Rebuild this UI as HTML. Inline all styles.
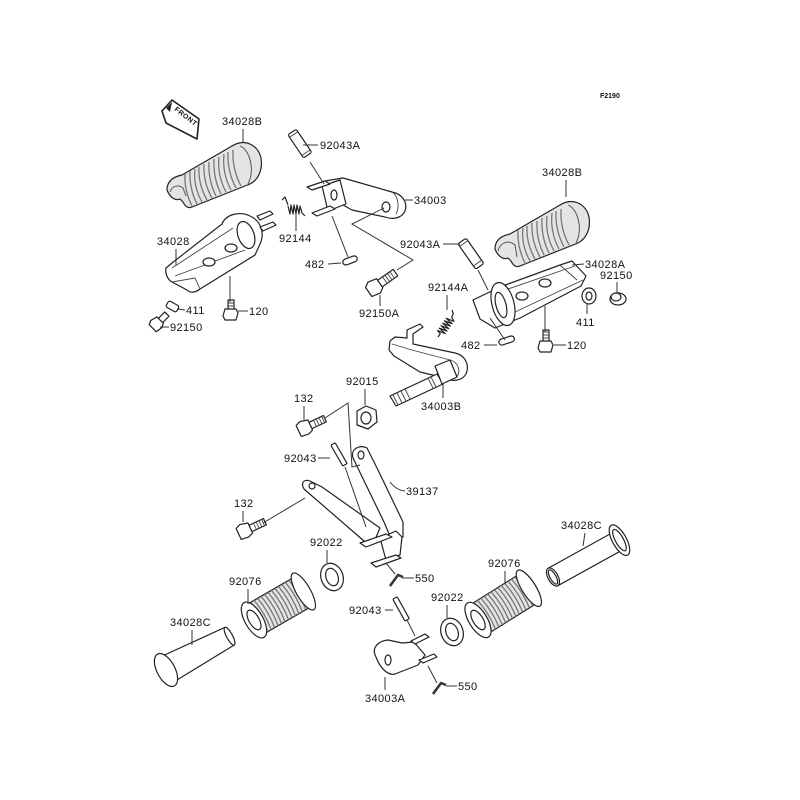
<!DOCTYPE html>
<html><head><meta charset="utf-8"><style>
html,body{margin:0;padding:0;background:#fff;}
svg{display:block}
text{font-family:"Liberation Sans",sans-serif;font-size:11px;fill:#111;letter-spacing:0.4px}
.s{fill:#fff;stroke:#222;stroke-width:1.2;stroke-linejoin:round}
.g{fill:#e4e4e4;stroke:#222;stroke-width:1.2;stroke-linejoin:round}
.l{stroke:#333;stroke-width:1;fill:none}
.r{stroke:#777;stroke-width:1.3;fill:none}
.t{stroke:#444;stroke-width:0.9;fill:none}
</style></head><body>
<svg width="800" height="800" viewBox="0 0 800 800">
<rect width="800" height="800" fill="#fff"/>

<!-- F2190 -->
<text x="600" y="98" style="font-size:7px;font-weight:bold;letter-spacing:0">F2190</text>

<!-- FRONT badge -->
<polygon class="s" points="162,111 172,100 199,119 197,139 166,123" style="stroke-width:1.6"/>
<polygon points="166,108 172,102 170,112" fill="#222"/>
<text x="0" y="0" transform="translate(174,110) rotate(38)" style="font-size:7px;font-weight:bold;letter-spacing:0.5px">FRONT</text>

<!-- Left grip 34028B -->
<g>
<path class="g" d="M167,190 C167,182 172,177 182,175 L232,146 C245,138 258,145 261,158 C263,170 258,180 250,184 L192,207 C188,209 185,206 183,202 L180,199 C176,201 170,198 167,190 Z"/>
<path class="t" d="M240,146 C250,150 255,170 248,184"/>
<path class="t" d="M170,192 C172,186 178,184 183,188 L186,196"/>
<g class="r">
<path d="M185,174 Q184,190 192,206"/><path d="M190,171 Q189,188 197,204"/><path d="M195,169 Q193,186 202,202"/>
<path d="M199,167 Q198,184 207,200"/><path d="M204,164 Q203,182 212,198"/><path d="M209,162 Q208,180 216,196"/>
<path d="M214,159 Q213,178 221,194"/><path d="M219,157 Q217,175 226,192"/><path d="M224,154 Q222,173 231,190"/>
<path d="M228,152 Q227,171 236,188"/><path d="M233,150 Q232,169 241,186"/>
</g>
</g>
<!-- Right grip 34028B -->
<g transform="translate(328,59)">
<path class="g" d="M167,190 C167,182 172,177 182,175 L232,146 C245,138 258,145 261,158 C263,170 258,180 250,184 L192,207 C188,209 185,206 183,202 L180,199 C176,201 170,198 167,190 Z"/>
<path class="t" d="M240,146 C250,150 255,170 248,184"/>
<path class="t" d="M170,192 C172,184 180,180 187,186 L189,198"/>
<g class="r">
<path d="M190,171 Q189,188 197,204"/><path d="M195,169 Q193,186 202,202"/>
<path d="M199,167 Q198,184 207,200"/><path d="M204,164 Q203,182 212,198"/><path d="M209,162 Q208,180 216,196"/>
<path d="M214,159 Q213,178 221,194"/><path d="M219,157 Q217,175 226,192"/><path d="M224,154 Q222,173 231,190"/>
<path d="M228,152 Q227,171 236,188"/><path d="M233,150 Q232,169 241,186"/>
</g>
</g>

<!-- Left footpeg 34028 -->
<path class="s" d="M166,268 L172,263 L222,224 C226,214 240,211 250,216 C261,221 265,233 260,244 L255,255 L200,289 C195,293 190,293 187,290 L172,282 C167,279 165,273 166,268 Z"/>
<ellipse class="s" cx="246" cy="235" rx="8" ry="14" transform="rotate(-20 246 235)"/>
<path class="t" d="M172,268 L233,228 M175,276 L245,250 M172,282 L195,278 L200,289"/>
<ellipse class="s" cx="209" cy="262" rx="6" ry="4"/><ellipse class="s" cx="231" cy="248" rx="6" ry="4"/>
<polygon class="s" points="257,216 270,211 273,214 260,220"/>
<polygon class="s" points="260,227 273,222 276,225 263,231"/>

<!-- Bracket 34003 -->
<path class="s" d="M325,181 L343,178 L392,192 C402,194 408,202 405,211 C402,218 393,220 385,217 L352,210 L343,205 Z"/>
<ellipse class="s" cx="386" cy="207" rx="4" ry="5"/>
<path class="t" d="M392,192 C398,196 400,206 396,214"/>
<polygon class="s" points="322,186 340,180 346,204 328,211"/>
<ellipse class="s" cx="334" cy="195" rx="3" ry="5"/>
<polygon class="s" points="307,187 325,181 330,184 312,190"/>
<polygon class="s" points="312,213 330,206 335,209 317,216"/>

<!-- Pin 92043A left -->
<g transform="translate(292,132) rotate(-34)"><rect class="s" x="-5" y="0" width="10" height="28" rx="2"/><line class="t" x1="-5" y1="3" x2="5" y2="3"/><line class="t" x1="-5" y1="25" x2="5" y2="25"/></g>
<!-- Spring 92144 -->
<path class="s" d="M282,200 L285,197 L288,205" style="fill:none"/>
<polyline class="s" style="fill:none" points="288,206 290,214 291,205 293,214 294,205 296,214 297,205 299,214 300,206 302,213 305,216"/>
<!-- 482 left -->
<g transform="translate(343,263) rotate(-20)"><rect class="s" x="0" y="-3" width="15" height="6" rx="3"/></g>
<!-- 92150A bolt -->
<g transform="translate(375,287) rotate(-35)"><rect class="s" x="5" y="-4" width="20" height="8"/><path class="t" d="M12,-4 L12,4 M15,-4 L15,4 M18,-4 L18,4 M21,-4 L21,4"/><polygon class="s" points="-8,-5 -3,-8 6,-6 6,5 1,8 -8,6"/></g>

<!-- 411 left, 92150 left, 120 left -->
<g transform="translate(167,304) rotate(-61)"><rect class="s" x="-3" y="0" width="7" height="12" rx="2"/></g>
<g transform="translate(157,324) rotate(-45)"><rect class="s" x="4" y="-3" width="10" height="6"/><polygon class="s" points="-6,-5 -2,-7 5,-5 5,4 1,6 -6,5"/></g>
<g transform="translate(231,314) rotate(-90)"><rect class="s" x="4" y="-3" width="10" height="6"/><path class="t" d="M8,-3 L8,3 M11,-3 L11,3"/><polygon class="s" points="-6,-6 -2,-8 5,-6 5,5 1,7 -6,5"/></g>

<!-- Right pin 92043A -->
<g transform="translate(462,241) rotate(-35)"><rect class="s" x="-5" y="0" width="10" height="31" rx="2"/><line class="t" x1="-5" y1="3" x2="5" y2="3"/><line class="t" x1="-5" y1="27" x2="5" y2="27"/></g>

<!-- Right footpeg 34028A -->
<path class="s" d="M473,300 L500,287 L560,265 L572,261 L586,276 L581,286 L520,318 L495,328 L480,319 Z"/>
<path class="t" d="M505,290 L575,266 M515,312 L583,280 M560,265 L577,280"/>
<ellipse class="s" cx="545" cy="283" rx="6" ry="4"/><ellipse class="s" cx="522" cy="296" rx="6" ry="4"/>
<ellipse class="s" cx="503" cy="304" rx="11" ry="22" transform="rotate(-15 503 304)"/>
<ellipse class="s" cx="501" cy="305" rx="5" ry="13" transform="rotate(-15 501 305)"/>
<!-- 411 right washer -->
<ellipse class="s" cx="589" cy="296" rx="7" ry="8"/><ellipse class="s" cx="589" cy="296" rx="3" ry="4"/>
<!-- 92150 right -->
<ellipse class="s" cx="618" cy="299" rx="8" ry="6"/><ellipse class="s" cx="616" cy="297" rx="5" ry="4"/>
<!-- 120 right -->
<g transform="translate(546,346) rotate(-90)"><rect class="s" x="4" y="-3" width="12" height="6"/><path class="t" d="M8,-3 L8,3 M11,-3 L11,3 M14,-3 L14,3"/><polygon class="s" points="-6,-6 -2,-8 5,-6 5,5 1,7 -6,5"/></g>
<!-- 482 right -->
<g transform="translate(499,343) rotate(-18)"><rect class="s" x="0" y="-3" width="16" height="6" rx="3"/></g>
<!-- Spring 92144A -->
<g transform="translate(438,337) rotate(-55)"><polyline class="s" style="fill:none" points="0,0 4,0 5,-4 7,4 8,-4 10,4 11,-4 13,4 14,-4 16,4 17,-4 19,4 20,-4 22,4 24,0 28,-1 30,-4"/></g>

<!-- Brake pedal 34003B -->
<path class="s" d="M390,341 L395,337 L407,338 L407,330 L420,324 L423,327 L413,334 L413,344 L455,353 C465,355 470,365 466,374 C462,381 452,382 445,378 L420,372 L394,356 L389,350 Z"/>
<path class="t" d="M392,344 L412,350 L450,360 C458,362 461,370 457,377"/>
<polygon class="s" points="437,374 443,384 396,406 390,396"/>
<path class="s" d="M435,366 L450,360 L457,377 L442,384 Z"/>
<path class="t" d="M428,378 L433,388 M431,377 L436,387 M393,395 L398,405 M397,393 L402,403 M401,391 L406,401 M405,389 L410,399"/>

<!-- 92015 nut -->
<polygon class="s" points="357,411 366,406 376,410 377,422 368,429 357,425"/>
<ellipse class="s" cx="366" cy="418" rx="5" ry="6"/>
<!-- 132 upper -->
<g transform="translate(305,428) rotate(-25)"><rect class="s" x="6" y="-3.5" width="16" height="7"/><path class="t" d="M11,-3.5 L11,3.5 M14,-3.5 L14,3.5 M17,-3.5 L17,3.5 M20,-3.5 L20,3.5"/><polygon class="s" points="-7,-6 -2,-8 6,-6 6,5 1,7 -7,6"/></g>
<!-- 132 lower -->
<g transform="translate(245,531) rotate(-25)"><rect class="s" x="6" y="-3.5" width="16" height="7"/><path class="t" d="M11,-3.5 L11,3.5 M14,-3.5 L14,3.5 M17,-3.5 L17,3.5 M20,-3.5 L20,3.5"/><polygon class="s" points="-7,-6 -2,-8 6,-6 6,5 1,7 -7,6"/></g>
<!-- 92043 upper pin -->
<g transform="translate(333,444) rotate(-30)"><rect class="s" x="-2.5" y="0" width="5" height="24" rx="1"/></g>

<!-- 39137 -->
<path class="s" d="M353,458 C350,449 360,444 367,448 L378,470 L403,522 L403,537 L392,541 L384,522 Z"/>
<ellipse class="s" cx="361" cy="455" rx="3" ry="4"/>
<path class="s" d="M304,489 C300,482 305,479 310,481 L322,487 L380,528 L374,542 L364,541 Z"/>
<ellipse class="s" cx="312" cy="486" rx="3" ry="3"/>
<polygon class="s" points="380,538 396,531 402,537 400,555 386,560"/>
<polygon class="s" points="360,543 386,534 392,537 366,547"/>
<polygon class="s" points="371,563 396,555 401,558 376,567"/>
<!-- 550 upper -->
<path class="s" d="M390,586 L398,575 L403,577" style="stroke-width:2.5;stroke:#333;fill:none"/>
<!-- 92022 left washer -->
<ellipse class="s" cx="332" cy="577" rx="11" ry="14" transform="rotate(-20 332 577)"/>
<ellipse class="s" cx="332" cy="577" rx="6" ry="9" transform="rotate(-20 332 577)"/>
<!-- 92043 lower pin -->
<g transform="translate(395,598) rotate(-29)"><rect class="s" x="-2.5" y="0" width="5" height="25" rx="1"/></g>
<!-- 34003A -->
<path class="s" d="M376,657 C371,648 378,641 388,640 L402,643 L414,642 L425,655 L418,665 L395,674 C388,676 380,668 376,657 Z"/>
<ellipse class="s" cx="388" cy="660" rx="3" ry="5"/>
<polygon class="s" points="411,641 425,634 429,637 415,644"/>
<polygon class="s" points="419,660 434,654 437,657 423,663"/>
<!-- 550 lower -->
<path class="s" d="M433,694 L441,683 L446,685" style="stroke-width:2.5;stroke:#333;fill:none"/>
<!-- 92022 right washer -->
<ellipse class="s" cx="452" cy="632" rx="11" ry="14" transform="rotate(-20 452 632)"/>
<ellipse class="s" cx="452" cy="632" rx="6" ry="9" transform="rotate(-20 452 632)"/>

<!-- 92076 left -->
<g transform="translate(254,620) rotate(-30)">
<rect class="g" x="0" y="-17" width="57" height="34"/>
<g class="r"><path d="M6,-17 Q9,0 6,17 M10,-17 Q13,0 10,17 M14,-17 Q17,0 14,17 M18,-17 Q21,0 18,17 M22,-17 Q25,0 22,17 M26,-17 Q29,0 26,17 M30,-17 Q33,0 30,17 M34,-17 Q37,0 34,17 M38,-17 Q41,0 38,17 M42,-17 Q45,0 42,17 M46,-17 Q49,0 46,17 M50,-17 Q53,0 50,17"/></g>
<ellipse class="s" cx="57" cy="0" rx="7" ry="21"/>
<ellipse class="s" cx="0" cy="0" rx="9" ry="20"/>
<ellipse class="s" cx="0" cy="0" rx="5" ry="11"/>
</g>
<!-- 92076 right -->
<g transform="translate(478,620) rotate(-32)">
<rect class="g" x="0" y="-17" width="60" height="34"/>
<g class="r"><path d="M6,-17 Q9,0 6,17 M10,-17 Q13,0 10,17 M14,-17 Q17,0 14,17 M18,-17 Q21,0 18,17 M22,-17 Q25,0 22,17 M26,-17 Q29,0 26,17 M30,-17 Q33,0 30,17 M34,-17 Q37,0 34,17 M38,-17 Q41,0 38,17 M42,-17 Q45,0 42,17 M46,-17 Q49,0 46,17 M50,-17 Q53,0 50,17 M54,-17 Q57,0 54,17"/></g>
<ellipse class="s" cx="60" cy="0" rx="7" ry="21"/>
<ellipse class="s" cx="0" cy="0" rx="9" ry="20"/>
<ellipse class="s" cx="0" cy="0" rx="5" ry="11"/>
</g>
<!-- 34028C left -->
<g transform="translate(166,670) rotate(-28)">
<path class="s" d="M4,-14 L72,-10 L72,10 L4,14 Z"/>
<ellipse class="s" cx="72" cy="0" rx="3" ry="10"/>
<ellipse class="s" cx="0" cy="0" rx="9" ry="18"/>
</g>
<!-- 34028C right -->
<g transform="translate(553,577) rotate(-29)">
<path class="s" d="M0,-10 L72,-10 L72,10 L0,10 Z"/>
<ellipse class="s" cx="76" cy="0" rx="7" ry="17"/>
<ellipse class="s" cx="76" cy="0" rx="4" ry="12"/>
<ellipse class="s" cx="0" cy="0" rx="5" ry="10"/>
<ellipse class="s" cx="0" cy="0" rx="3" ry="8"/>
</g>

<!-- Leader / connection lines -->
<g class="l">
<path d="M243,129 L243,143"/><path d="M303,145 L318,145"/><path d="M405,200 L413,200"/>
<path d="M296,214 L296,231"/><path d="M176,249 L176,265"/><path d="M328,264 L341,263"/>
<path d="M443,244 L460,244"/><path d="M566,180 L566,197"/><path d="M572,265 L584,264"/>
<path d="M617,282 L617,293"/><path d="M447,295 L447,310"/><path d="M177,309 L185,310"/>
<path d="M238,311 L248,311"/><path d="M230,276 L230,302"/><path d="M380,295 L380,306"/>
<path d="M160,327 L169,327"/><path d="M587,304 L587,314"/><path d="M484,345 L497,345"/>
<path d="M554,345 L566,345"/><path d="M545,306 L545,332"/><path d="M365,389 L365,405"/>
<path d="M304,406 L304,420"/><path d="M443,383 L443,398"/><path d="M318,458 L330,458"/>
<path d="M390,482 Q396,490 405,491"/><path d="M243,511 L243,522"/><path d="M327,550 L327,563"/>
<path d="M585,533 L583,546"/><path d="M248,589 L248,604"/><path d="M505,571 L505,584"/>
<path d="M402,578 L414,578"/><path d="M385,610 L393,610"/><path d="M447,605 L447,618"/>
<path d="M192,630 L192,645"/><path d="M446,686 L457,686"/><path d="M385,677 L385,690"/>
<path d="M310,162 L324,184"/><path d="M332,216 L348,257"/>
<path d="M384,208 L352,224 L413,260 L397,270"/>
<path d="M478,270 L488,290"/><path d="M490,318 L505,340"/>
<path d="M345,467 L366,527"/><path d="M325,418 L348,403 L352,467 L360,465"/>
<path d="M263,523 L305,498"/><path d="M386,563 L395,574"/>
<path d="M407,620 L415,636"/><path d="M428,666 L437,683"/>
</g>

<!-- Labels -->
<text x="222" y="125">34028B</text>
<text x="320" y="149">92043A</text>
<text x="414" y="204">34003</text>
<text x="279" y="242">92144</text>
<text x="157" y="245">34028</text>
<text x="305" y="268">482</text>
<text x="400" y="248">92043A</text>
<text x="542" y="176">34028B</text>
<text x="585" y="268">34028A</text>
<text x="600" y="279">92150</text>
<text x="428" y="291">92144A</text>
<text x="186" y="314">411</text>
<text x="249" y="315">120</text>
<text x="359" y="317">92150A</text>
<text x="170" y="331">92150</text>
<text x="576" y="326">411</text>
<text x="461" y="349">482</text>
<text x="567" y="349">120</text>
<text x="346" y="385">92015</text>
<text x="294" y="402">132</text>
<text x="421" y="410">34003B</text>
<text x="284" y="462">92043</text>
<text x="406" y="495">39137</text>
<text x="234" y="507">132</text>
<text x="310" y="546">92022</text>
<text x="561" y="529">34028C</text>
<text x="229" y="585">92076</text>
<text x="488" y="567">92076</text>
<text x="415" y="582">550</text>
<text x="349" y="614">92043</text>
<text x="431" y="601">92022</text>
<text x="170" y="626">34028C</text>
<text x="458" y="690">550</text>
<text x="365" y="702">34003A</text>
</svg>
</body></html>
